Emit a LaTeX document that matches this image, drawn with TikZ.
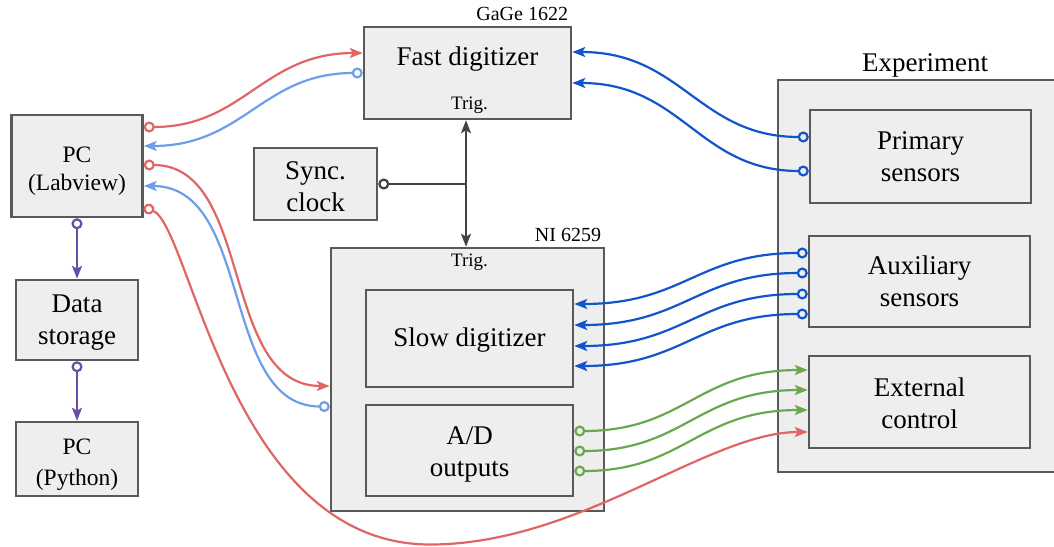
\documentclass[tikz,border=0pt]{standalone}
\usepackage{fontspec}
\setmainfont{Liberation Serif}
\usetikzlibrary{arrows.meta}

\definecolor{boxfill}{HTML}{EEEEEE}
\definecolor{boxedge}{HTML}{595959}
\definecolor{wirered}{HTML}{E06666}
\definecolor{wirelight}{HTML}{6D9EEB}
\definecolor{wireblue}{HTML}{1155CC}
\definecolor{wiregreen}{HTML}{6AA84F}
\definecolor{wirepurple}{HTML}{674EA7}
\definecolor{wiregray}{HTML}{434343}

% invisible strut that pushes a box's text down
\newcommand{\boxlift}[1]{\rule{0pt}{#1}}

\begin{document}
\begin{tikzpicture}[x=1pt,y=-1pt]
\tikzstyle{every node}+=[inner sep=0pt]
\tikzstyle{unit}=[draw=boxedge,fill=boxfill,line width=2.5pt,align=center,font=\fontsize{27}{32}\selectfont]
\tikzstyle{pcunit}=[unit,font=\fontsize{23.5}{28}\selectfont]
\tikzstyle{tag}=[font=\fontsize{20}{24}\selectfont]
\tikzstyle{trig}=[font=\fontsize{19}{22}\selectfont]
\tikzstyle{link}=[line width=2.2pt,{Circle[open,length=11pt,width=11pt]}-{Stealth[length=13pt,width=10pt,inset=3pt]}]
\useasboundingbox (0,0) rectangle (1054,546);

% left column: acquisition PC, storage, offline PC
\node[pcunit,minimum width=131pt,minimum height=102pt] (labpc) at (77,166) {\boxlift{25.6pt}PC\\(Labview)};
\node[unit,minimum width=122pt,minimum height=80pt] (store) at (77,320) {\boxlift{23.4pt}Data\\storage};
\node[pcunit,font=\fontsize{23.5}{31}\selectfont,minimum width=122pt,minimum height=74pt] (pypc) at (77,459) {\boxlift{27.6pt}PC\\(Python)};

% digitizers and clock
\node[unit,minimum width=207pt,minimum height=92pt] (fast) at (467.5,73) {};
\node[anchor=base,font=\fontsize{27}{32}\selectfont] (fastname) at ([yshift=-40pt]fast.north) {Fast digitizer};
\node[trig,anchor=base] (fasttrig) at ([xshift=2pt,yshift=11pt]fast.south) {Trig.};
\node[tag,anchor=base east] (fasttag) at ([xshift=-4pt,yshift=5pt]fast.north east) {GaGe 1622};
\node[unit,minimum width=123pt,minimum height=72pt] (sync) at (315.5,184) {\boxlift{22.4pt}Sync.\\clock};
\node[unit,minimum width=273pt,minimum height=263pt] (ni) at (467.5,379.5) {};
\node[trig,anchor=base] (nitrig) at ([xshift=2pt,yshift=-20pt]ni.north) {Trig.};
\node[tag,anchor=base east] (nitag) at ([xshift=-4pt,yshift=5pt]ni.north east) {NI 6259};
\node[unit,minimum width=207pt,minimum height=97pt] (slow) at (469.5,338.5) {\boxlift{22.4pt}Slow digitizer};
\node[unit,minimum width=207pt,minimum height=91pt] (ad) at (469.5,450.5) {\boxlift{26.4pt}A/D\\outputs};

% experiment side
\node[unit,minimum width=286pt,minimum height=392pt] (exp) at (921,276) {};
\node[anchor=base,font=\fontsize{27}{32}\selectfont] (expname) at ([xshift=4pt,yshift=7pt]exp.north) {Experiment};
\node[unit,minimum width=221pt,minimum height=93pt] (prim) at (920.5,156.5) {Primary\\sensors};
\node[unit,minimum width=221pt,minimum height=91pt] (aux) at (919.5,281.5) {Auxiliary\\sensors};
\node[unit,minimum width=221pt,minimum height=92pt] (ext) at (919.5,402) {\boxlift{20.4pt}External\\control};

% PC <-> digitizers
\draw[link,wirered] ([yshift=39pt]labpc.east) .. controls +(100,0) and +(-100,0) .. ([yshift=20pt]fast.west);
\draw[link,wirelight] (fast.west) .. controls +(-100,0) and +(100,0) .. ([yshift=20pt]labpc.east);
\draw[link,wirered] ([yshift=1pt]labpc.east) .. controls +(110,0) and +(-110,0) .. ([yshift=-6.5pt]ni.west);
\draw[link,wirelight] ([yshift=-27pt]ni.west) .. controls +(-110,0) and +(110,0) .. ([yshift=-20pt]labpc.east);
\coordinate (dip) at (430,544.5);
\draw[link,wirered] ([yshift=-41pt]labpc.east) .. controls +(47,19) and +(-200,0) .. (dip)
  .. controls +(150,0) and +(-100,0) .. ([yshift=-30pt]ext.west);

% data path
\draw[link,wirepurple] (labpc.south) -- (store.north);
\draw[link,wirepurple] (store.south) -- (pypc.north);

% clock distribution
\coordinate (junc) at (466,184);
\draw[wiregray,line width=2.2pt,{Circle[open,length=11pt,width=11pt]}-] (sync.east) -- (junc);
\draw[wiregray,line width=2.2pt,{Stealth[length=13pt,width=10pt,inset=3pt]}-{Stealth[length=13pt,width=10pt,inset=3pt]}] (junc |- fast.south) -- (junc |- ni.north);

% sensors -> digitizers
\foreach \s/\t in {19.5/21,-14.5/-10}
  \draw[link,wireblue] ([yshift=\s pt]prim.west) .. controls +(-110,0) and +(110,0) .. ([yshift=\t pt]fast.east);
\foreach \s/\t in {28.5/34.5,8.5/13.5,-12.5/-7.5,-32.5/-27.5}
  \draw[link,wireblue] ([yshift=\s pt]aux.west) .. controls +(-110,0) and +(110,0) .. ([yshift=\t pt]slow.east);

% outputs -> external control
\foreach \s/\t in {19.5/32,-0.5/12,-20.5/-8}
  \draw[link,wiregreen] ([yshift=\s pt]ad.east) .. controls +(110,0) and +(-110,0) .. ([yshift=\t pt]ext.west);
\end{tikzpicture}
\end{document}
